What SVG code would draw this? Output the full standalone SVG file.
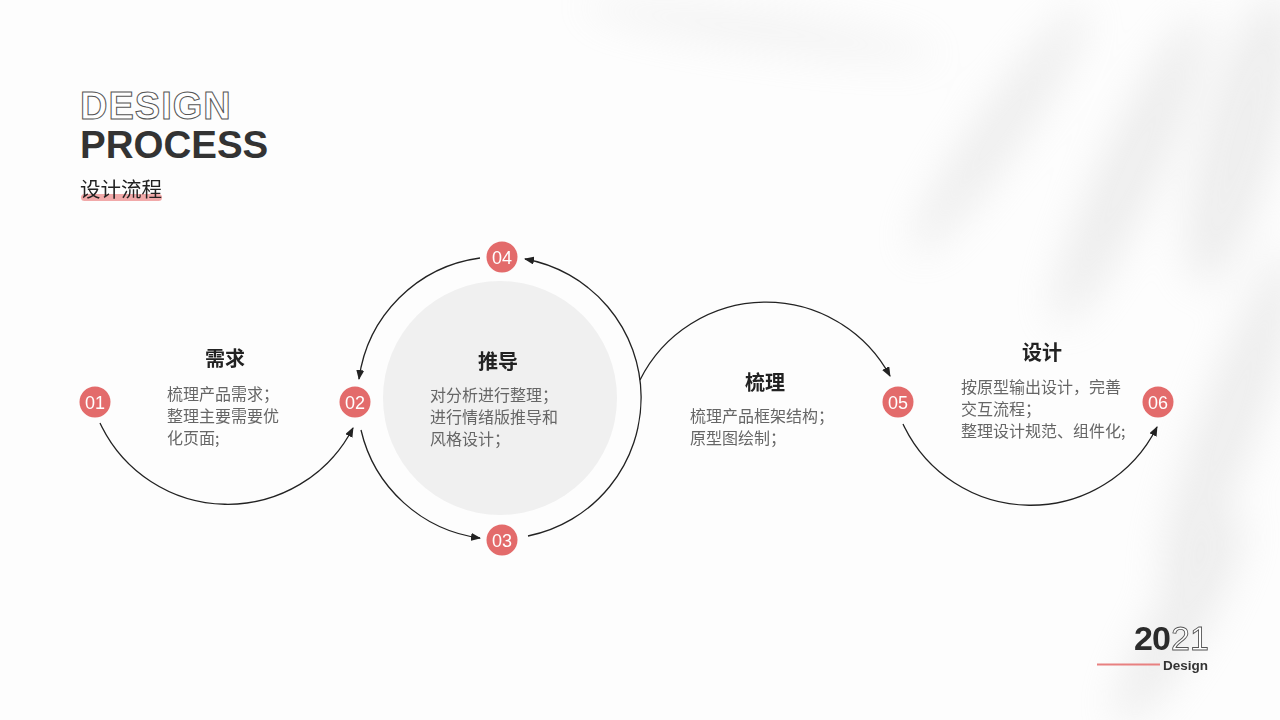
<svg xmlns="http://www.w3.org/2000/svg" width="1280" height="720" viewBox="0 0 1280 720">
<defs>
<filter id="blur" x="-50%" y="-50%" width="200%" height="200%"><feGaussianBlur stdDeviation="20"/></filter>
<marker id="arr" viewBox="0 0 10 8" refX="9" refY="4" markerWidth="10" markerHeight="8" markerUnits="userSpaceOnUse" orient="auto">
<path d="M0,0 L10,4 L0,8 z" fill="#222"/>
</marker>
<style>
.cn{font-family:"Noto Sans CJK SC","Noto Sans",sans-serif}
.title{font-size:20px;font-weight:bold;fill:#222;text-anchor:middle}
.body{font-size:16px;fill:#666}
.dot{fill:#e36b6b}
.num{font-family:"Liberation Sans","Noto Sans",sans-serif;font-size:18px;fill:#fff;text-anchor:middle}
.conn{fill:none;stroke:#222;stroke-width:1.3;marker-end:url(#arr)}
</style>
</defs>
<rect width="1280" height="720" fill="#fdfdfd"/>
<g id="shadows" filter="url(#blur)" fill="#d6d6d6" opacity="0.4">
<ellipse cx="1240" cy="140" rx="35" ry="150" transform="rotate(15 1240 140)"/>
<ellipse cx="1130" cy="170" rx="28" ry="170" transform="rotate(25 1130 170)"/>
<ellipse cx="1000" cy="130" rx="22" ry="150" transform="rotate(35 1000 130)"/>
<ellipse cx="1230" cy="420" rx="28" ry="180" transform="rotate(20 1230 420)"/>
<ellipse cx="760" cy="30" rx="180" ry="18" transform="rotate(8 760 30)" opacity="0.6"/>
<ellipse cx="1180" cy="620" rx="25" ry="120" transform="rotate(30 1180 620)"/>
</g>
<g id="heading">
<text x="80" y="119" font-family="Liberation Sans,Arial,sans-serif" font-weight="bold" font-size="38" fill="#fff" stroke="#555" stroke-width="1" letter-spacing="1">DESIGN</text>
<text x="80" y="158" font-family="Liberation Sans,Arial,sans-serif" font-weight="bold" font-size="38.5" fill="#333">PROCESS</text>
<rect x="81" y="194" width="81" height="7" rx="3.5" fill="#ef9a9a" opacity="0.85"/>
<text x="80" y="197" class="cn" font-size="20.5" fill="#222">设计流程</text>
</g>
<g id="hub"><circle cx="500" cy="398" r="117" fill="#f0f0f0"/></g>
<g id="connectors">
<path class="conn" d="M100,423 A141,141 0 0 0 353,428"/>
<path class="conn" d="M480,258 A141,141 0 0 0 359,379"/>
<path class="conn" d="M361,430 A141,141 0 0 0 480,538"/>
<path class="conn" d="M528,536 A141,141 0 0 0 525,259"/>
<path class="conn" d="M640,380 A141,141 0 0 1 890,376"/>
<path class="conn" d="M903,424 A141,141 0 0 0 1157,427"/>
</g>
<g id="n01"><circle class="dot" cx="95" cy="402" r="15.5"/><text class="num" x="95" y="408.5">01</text></g>
<g id="n02"><circle class="dot" cx="355" cy="402" r="15.5"/><text class="num" x="355" y="408.5">02</text></g>
<g id="n03"><circle class="dot" cx="502" cy="540" r="15.5"/><text class="num" x="502" y="546.5">03</text></g>
<g id="n04"><circle class="dot" cx="502" cy="257" r="15.5"/><text class="num" x="502" y="263.5">04</text></g>
<g id="n05"><circle class="dot" cx="898" cy="402" r="15.5"/><text class="num" x="898" y="408.5">05</text></g>
<g id="n06"><circle class="dot" cx="1158" cy="402" r="15.5"/><text class="num" x="1158" y="408.5">06</text></g>
<g id="step-xuqiu" class="cn">
<text class="title" x="225" y="366">需求</text>
<text class="body" x="167" y="400">梳理产品需求；</text>
<text class="body" x="167" y="422">整理主要需要优</text>
<text class="body" x="167" y="444">化页面;</text>
</g>
<g id="step-tuidao" class="cn">
<text class="title" x="498" y="369">推导</text>
<text class="body" x="430" y="401">对分析进行整理；</text>
<text class="body" x="430" y="423">进行情绪版推导和</text>
<text class="body" x="430" y="445">风格设计；</text>
</g>
<g id="step-shuli" class="cn">
<text class="title" x="765" y="390">梳理</text>
<text class="body" x="690" y="422">梳理产品框架结构；</text>
<text class="body" x="690" y="444">原型图绘制；</text>
</g>
<g id="step-sheji" class="cn">
<text class="title" x="1042" y="360">设计</text>
<text class="body" x="961" y="393">按原型输出设计，完善</text>
<text class="body" x="961" y="415">交互流程；</text>
<text class="body" x="961" y="437">整理设计规范、组件化;</text>
</g>
<g id="year">
<text x="1171" y="650" font-family="Liberation Sans,Arial,sans-serif" font-size="34" fill="#fff" stroke="#555" stroke-width="0.9">21</text>
<text x="1134" y="650" font-family="Liberation Sans,Arial,sans-serif" font-weight="bold" font-size="34" fill="#2b2b2b" letter-spacing="-1">20</text>
<line x1="1097" y1="664.5" x2="1160" y2="664.5" stroke="#e88080" stroke-width="2"/>
<text x="1163" y="670" font-family="Liberation Sans,Arial,sans-serif" font-weight="bold" font-size="13.5" fill="#333">Design</text>
</g>
</svg>
